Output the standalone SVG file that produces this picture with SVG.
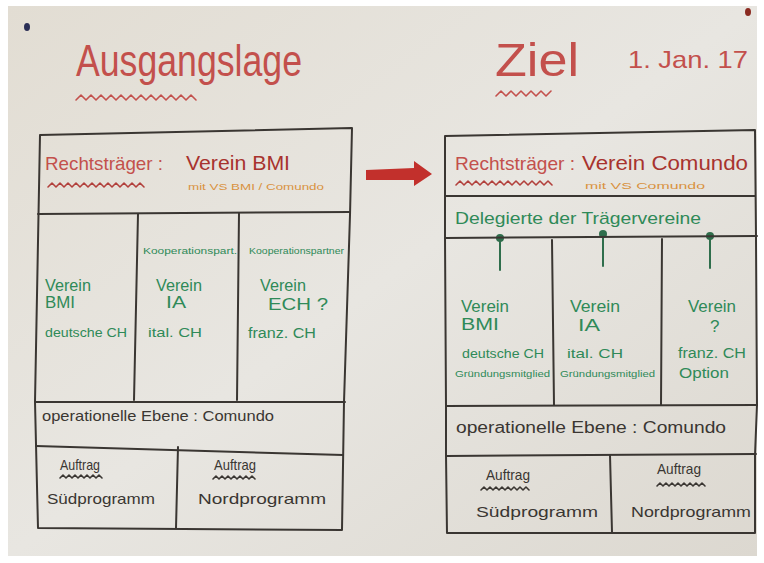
<svg xmlns="http://www.w3.org/2000/svg" width="764" height="563" viewBox="0 0 764 563">
<defs>
<style>
.ln{fill:none;stroke:#3a3632;stroke-width:2;stroke-linecap:round;stroke-linejoin:round}
.wv{fill:none;stroke-width:1.6;stroke-linecap:round;stroke-linejoin:round}
.h{font-family:"Liberation Sans Narrow","Liberation Sans",sans-serif}
.red{fill:#c3504c}
.dred{fill:#a8332e}
.grn{fill:#2f8a58}
.org{fill:#d9923f}
.drk{fill:#3a3632}
</style>
<linearGradient id="paper" x1="0" y1="0" x2="1" y2="1">
<stop offset="0" stop-color="#e2ddd3"/>
<stop offset="0.5" stop-color="#e8e6e1"/>
<stop offset="1" stop-color="#dcd8d0"/>
</linearGradient>
<marker id="dot" viewBox="0 0 6 6" refX="3" refY="3" markerWidth="4" markerHeight="4"><circle cx="3" cy="3" r="3" fill="#2f6e4c"/></marker>
</defs>
<rect width="764" height="563" fill="#ffffff"/>
<rect x="8" y="6" width="749" height="550" fill="url(#paper)"/>
<ellipse cx="27" cy="27" rx="3" ry="4" fill="#2a2f55"/>
<ellipse cx="748" cy="12" rx="3" ry="4" fill="#8a2a20"/>

<g id="title-left">
<text class="h red" x="76" y="76" font-size="44" textLength="226" lengthAdjust="spacingAndGlyphs">Ausgangslage</text>
<path class="wv" stroke="#c3504c" d="M76 100 l5 -5 l5 5 l5 -5 l5 5 l5 -5 l5 5 l5 -5 l5 5 l5 -5 l5 5 l5 -5 l5 5 l5 -5 l5 5 l5 -5 l5 5 l5 -5 l5 5 l5 -5 l5 5 l5 -5 l5 5 l5 -5 l5 5"/>
</g>
<g id="title-right">
<text class="h red" x="495" y="76" font-size="46" textLength="84" lengthAdjust="spacingAndGlyphs">Ziel</text>
<path class="wv" stroke="#c3504c" d="M496 96 l5 -5 l5 5 l5 -5 l5 5 l5 -5 l5 5 l5 -5 l5 5 l5 -5 l5 5 l5 -5"/>
<text class="h red" x="628" y="68" font-size="24" textLength="120" lengthAdjust="spacingAndGlyphs">1. Jan. 17</text>
</g>

<g id="connectors">
<path d="M366 170 L414 168 L414 161 L432 174 L414 186 L414 180 L366 180 Z" fill="#c2302c"/>
<line class="ln" x1="500" y1="270" x2="500" y2="238" stroke="#2f6e4c" marker-end="url(#dot)" style="stroke:#2f6e4c"/>
<line class="ln" x1="603" y1="266" x2="603" y2="234" marker-end="url(#dot)" style="stroke:#2f6e4c"/>
<line class="ln" x1="710" y1="268" x2="710" y2="236" marker-end="url(#dot)" style="stroke:#2f6e4c"/>
</g>

<g id="panel-left">
<path class="ln" d="M40 135 L352 128 L350 215 L344 402 L342 530 L38 528 L35 402 L40 135"/>
<path class="ln" d="M38 214 L350 212"/>
<path class="ln" d="M36 402 L345 402"/>
<path class="ln" d="M36 446 L343 455"/>
<path class="ln" d="M138 214 L134 400"/>
<path class="ln" d="M239 213 L237 400"/>
<path class="ln" d="M178 447 L176 528"/>
</g>
<g id="left-header">
<text class="h red" x="45" y="170" font-size="19" textLength="118" lengthAdjust="spacingAndGlyphs">Rechtsträger :</text>
<path class="wv" stroke="#b2403c" d="M48 187 l4 -4 l4 4 l4 -4 l4 4 l4 -4 l4 4 l4 -4 l4 4 l4 -4 l4 4 l4 -4 l4 4 l4 -4 l4 4 l4 -4 l4 4 l4 -4 l4 4 l4 -4 l4 4 l4 -4 l4 4 l4 -4 l4 4"/>
<text class="h dred" x="186" y="170" font-size="21" textLength="104" lengthAdjust="spacingAndGlyphs">Verein BMI</text>
<text class="h org" x="188" y="190" font-size="9" textLength="136" lengthAdjust="spacingAndGlyphs">mit VS BMI / Comundo</text>
</g>
<g id="left-col1">
<text class="h grn" x="45" y="291" font-size="16" textLength="46" lengthAdjust="spacingAndGlyphs">Verein</text>
<text class="h grn" x="45" y="308" font-size="16" textLength="30" lengthAdjust="spacingAndGlyphs">BMI</text>
<text class="h grn" x="45" y="337" font-size="13" textLength="82" lengthAdjust="spacingAndGlyphs">deutsche CH</text>
</g>
<g id="left-col2">
<text class="h grn" x="143" y="254" font-size="9" textLength="94" lengthAdjust="spacingAndGlyphs">Kooperationspart.</text>
<text class="h grn" x="156" y="291" font-size="16" textLength="46" lengthAdjust="spacingAndGlyphs">Verein</text>
<text class="h grn" x="166" y="308" font-size="16" textLength="20" lengthAdjust="spacingAndGlyphs">IA</text>
<text class="h grn" x="148" y="337" font-size="13" textLength="54" lengthAdjust="spacingAndGlyphs">ital. CH</text>
</g>
<g id="left-col3">
<text class="h grn" x="249" y="254" font-size="9" textLength="95" lengthAdjust="spacingAndGlyphs">Kooperationspartner</text>
<text class="h grn" x="260" y="291" font-size="16" textLength="46" lengthAdjust="spacingAndGlyphs">Verein</text>
<text class="h grn" x="268" y="310" font-size="16" textLength="60" lengthAdjust="spacingAndGlyphs">ECH  ?</text>
<text class="h grn" x="248" y="338" font-size="14" textLength="68" lengthAdjust="spacingAndGlyphs">franz. CH</text>
</g>
<g id="left-operational">
<text class="h drk" x="42" y="421" font-size="15" textLength="232" lengthAdjust="spacingAndGlyphs">operationelle Ebene : Comundo</text>
</g>
<g id="left-sued">
<text class="h drk" x="60" y="470" font-size="15" textLength="40" lengthAdjust="spacingAndGlyphs">Auftrag</text>
<path class="wv" stroke="#3a3632" d="M60 478 l3 -3 l3 3 l3 -3 l3 3 l3 -3 l3 3 l3 -3 l3 3 l3 -3 l3 3 l3 -3 l3 3 l3 -3 l3 3"/>
<text class="h drk" x="47" y="504" font-size="15" textLength="108" lengthAdjust="spacingAndGlyphs">Südprogramm</text>
</g>
<g id="left-nord">
<text class="h drk" x="214" y="470" font-size="15" textLength="42" lengthAdjust="spacingAndGlyphs">Auftrag</text>
<path class="wv" stroke="#3a3632" d="M213 479 l3 -3 l3 3 l3 -3 l3 3 l3 -3 l3 3 l3 -3 l3 3 l3 -3 l3 3 l3 -3 l3 3 l3 -3 l3 3"/>
<text class="h drk" x="198" y="504" font-size="15" textLength="128" lengthAdjust="spacingAndGlyphs">Nordprogramm</text>
</g>

<g id="panel-right">
<path class="ln" d="M445 136 L755 130 L756 237 L757 405 L755 455 L755 533 L447 533 L446 455 L446 405 L445 237 L445 136"/>
<path class="ln" d="M445 196 L755 196"/>
<path class="ln" d="M445 238 L757 236"/>
<path class="ln" d="M446 406 L757 405"/>
<path class="ln" d="M447 456 L756 454"/>
<path class="ln" d="M552 240 L554 405"/>
<path class="ln" d="M662 239 L661 405"/>
<path class="ln" d="M610 455 L612 532"/>
</g>
<g id="right-header">
<text class="h red" x="455" y="170" font-size="19" textLength="120" lengthAdjust="spacingAndGlyphs">Rechtsträger :</text>
<path class="wv" stroke="#b2403c" d="M456 185 l4 -4 l4 4 l4 -4 l4 4 l4 -4 l4 4 l4 -4 l4 4 l4 -4 l4 4 l4 -4 l4 4 l4 -4 l4 4 l4 -4 l4 4 l4 -4 l4 4 l4 -4 l4 4 l4 -4 l4 4 l4 -4 l4 4"/>
<text class="h dred" x="582" y="170" font-size="21" textLength="166" lengthAdjust="spacingAndGlyphs">Verein Comundo</text>
<text class="h org" x="585" y="189" font-size="9" textLength="120" lengthAdjust="spacingAndGlyphs">mit VS Comundo</text>
</g>
<g id="right-delegierte">
<text class="h grn" x="455" y="224" font-size="17" textLength="246" lengthAdjust="spacingAndGlyphs">Delegierte der Trägervereine</text>
</g>
<g id="right-col1">
<text class="h grn" x="461" y="312" font-size="17" textLength="48" lengthAdjust="spacingAndGlyphs">Verein</text>
<text class="h grn" x="461" y="330" font-size="17" textLength="38" lengthAdjust="spacingAndGlyphs">BMI</text>
<text class="h grn" x="462" y="358" font-size="13" textLength="82" lengthAdjust="spacingAndGlyphs">deutsche CH</text>
<text class="h grn" x="455" y="377" font-size="9" textLength="95" lengthAdjust="spacingAndGlyphs">Gründungsmitglied</text>
</g>
<g id="right-col2">
<text class="h grn" x="570" y="312" font-size="17" textLength="50" lengthAdjust="spacingAndGlyphs">Verein</text>
<text class="h grn" x="578" y="331" font-size="17" textLength="22" lengthAdjust="spacingAndGlyphs">IA</text>
<text class="h grn" x="567" y="358" font-size="13" textLength="56" lengthAdjust="spacingAndGlyphs">ital. CH</text>
<text class="h grn" x="560" y="377" font-size="9" textLength="95" lengthAdjust="spacingAndGlyphs">Gründungsmitglied</text>
</g>
<g id="right-col3">
<text class="h grn" x="688" y="312" font-size="17" textLength="48" lengthAdjust="spacingAndGlyphs">Verein</text>
<text class="h grn" x="710" y="332" font-size="17">?</text>
<text class="h grn" x="678" y="358" font-size="14" textLength="68" lengthAdjust="spacingAndGlyphs">franz. CH</text>
<text class="h grn" x="679" y="378" font-size="14" textLength="50" lengthAdjust="spacingAndGlyphs">Option</text>
</g>
<g id="right-operational">
<text class="h drk" x="456" y="433" font-size="16" textLength="270" lengthAdjust="spacingAndGlyphs">operationelle Ebene : Comundo</text>
</g>
<g id="right-sued">
<text class="h drk" x="486" y="480" font-size="15" textLength="44" lengthAdjust="spacingAndGlyphs">Auftrag</text>
<path class="wv" stroke="#3a3632" d="M481 490 l3 -3 l3 3 l3 -3 l3 3 l3 -3 l3 3 l3 -3 l3 3 l3 -3 l3 3 l3 -3 l3 3 l3 -3 l3 3 l3 -3 l3 3"/>
<text class="h drk" x="476" y="517" font-size="15" textLength="122" lengthAdjust="spacingAndGlyphs">Südprogramm</text>
</g>
<g id="right-nord">
<text class="h drk" x="657" y="474" font-size="15" textLength="44" lengthAdjust="spacingAndGlyphs">Auftrag</text>
<path class="wv" stroke="#3a3632" d="M657 486 l3 -3 l3 3 l3 -3 l3 3 l3 -3 l3 3 l3 -3 l3 3 l3 -3 l3 3 l3 -3 l3 3 l3 -3 l3 3 l3 -3 l3 3"/>
<text class="h drk" x="631" y="517" font-size="15" textLength="120" lengthAdjust="spacingAndGlyphs">Nordprogramm</text>
</g>
</svg>
